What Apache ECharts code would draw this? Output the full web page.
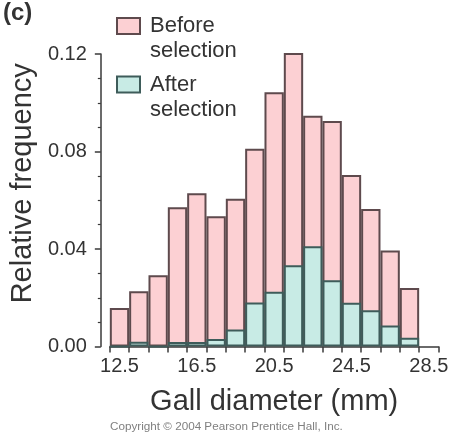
<!DOCTYPE html>
<html>
<head>
<meta charset="utf-8">
<script src="https://cdn.jsdelivr.net/npm/echarts@6/dist/echarts.min.js"></script>
<style>
html,body{margin:0;padding:0;background:#fff;}
#chart{width:451px;height:434px;}
</style>
</head>
<body>
<div id="chart"></div>
<script>
// Bin centers (mm); last category is an empty bin that extends the axis to 29
var categories = ['12.5','13.5','14.5','15.5','16.5','17.5','18.5','19.5','20.5','21.5','22.5','23.5','24.5','25.5','26.5','27.5','28.5'];
var beforeSelection = [0.0158,0.0227,0.0292,0.0571,0.0629,0.0534,0.0606,0.0811,0.1043,0.1212,0.0947,0.0925,0.0704,0.0564,0.0394,0.0240,null];
var afterSelection  = [0,0.0019,0,0.0018,0.0018,0.0031,0.0070,0.0181,0.0225,0.0333,0.0411,0.0272,0.0179,0.0149,0.0086,0.0036,null];
var yTicks = [0, 0.04, 0.08, 0.12];

var font = '"Liberation Sans", Arial, Helvetica, sans-serif';
var txt = '#333333';
var axisCol = '#3a3a3a';
var pink = '#fcd0d3', pinkBorder = '#5e4a4d';
var teal = '#c8ebe5', tealBorder = '#3e5c5a';

var chart = echarts.init(document.getElementById('chart'), null, {renderer: 'canvas'});
var legendText = {fontFamily: font, fontSize: 22, color: txt, lineHeight: 25, padding: [0, 0, 0, 5]};
function legendFmt(n) { return ' \n' + n; }
chart.setOption({
  animation: false,
  backgroundColor: '#ffffff',
  grid: {left: 103.5, right: 9.4, top: 54, bottom: 87.5, containLabel: false},
  legend: [
    {data: ['Before\nselection'], left: 116, top: -11.5, padding: 0, orient: 'vertical',
     itemWidth: 23, itemHeight: 16, icon: 'rect', selectedMode: false, formatter: legendFmt,
     itemStyle: {color: pink, borderColor: pinkBorder, borderWidth: 2},
     textStyle: legendText},
    {data: ['After\nselection'], left: 116, top: 47, padding: 0, orient: 'vertical',
     itemWidth: 23, itemHeight: 16, icon: 'rect', selectedMode: false, formatter: legendFmt,
     itemStyle: {color: teal, borderColor: tealBorder, borderWidth: 2},
     textStyle: legendText}
  ],
  graphic: [
    {type: 'text', left: 3, top: 1, style: {text: '(c)', font: 'bold 24px ' + font, fill: txt}},
    {type: 'text', left: 110, top: 421, style: {text: 'Copyright \u00A9 2004 Pearson Prentice Hall, Inc.', font: '11.7px ' + font, fill: '#808080'}}
  ],
  xAxis: {
    type: 'category',
    data: categories,
    boundaryGap: true,
    name: 'Gall diameter (mm)',
    nameLocation: 'middle',
    nameGap: 41,
    nameTextStyle: {fontFamily: font, fontSize: 29, color: txt},
    axisLine: {show: true, lineStyle: {color: axisCol, width: 1.5}},
    axisTick: {show: true, interval: 0, alignWithLabel: false, length: 6, lineStyle: {color: axisCol, width: 1.5}},
    axisLabel: {interval: 3, margin: 10, fontFamily: font, fontSize: 20, color: txt},
    splitLine: {show: false}
  },
  yAxis: {
    type: 'value',
    min: 0, max: 0.12, interval: 0.04,
    offset: 9,
    name: 'Relative frequency',
    nameLocation: 'middle',
    nameGap: 54,
    nameRotate: 90,
    nameTextStyle: {fontFamily: font, fontSize: 29, color: txt, padding: [0, 0, 0, 34]},
    axisLine: {show: true, lineStyle: {color: axisCol, width: 1.5}},
    axisTick: {show: true, length: 6, lineStyle: {color: axisCol, width: 1.5}},
    minorTick: {show: true, splitNumber: 4, length: 3, lineStyle: {color: axisCol, width: 1.2}},
    axisLabel: {margin: 14, fontFamily: font, fontSize: 20, color: txt,
      formatter: function (v) { return v.toFixed(2); }},
    splitLine: {show: false}
  },
  series: [
    {name: 'Before\nselection', type: 'bar', data: beforeSelection, barWidth: '100%', barGap: '-100%',
     itemStyle: {color: pink, borderColor: pinkBorder, borderWidth: 2}},
    {name: 'After\nselection', type: 'bar', data: afterSelection, barWidth: '100%', barGap: '-100%',
     itemStyle: {color: teal, borderColor: tealBorder, borderWidth: 2}}
  ]
});
</script>
</body>
</html>
